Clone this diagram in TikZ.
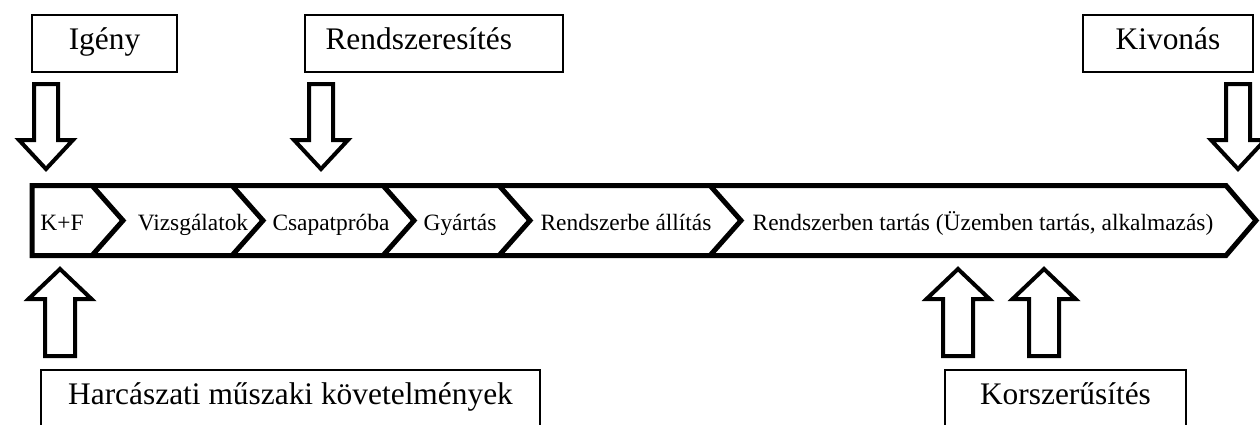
\documentclass[tikz,border=0pt]{standalone}
\usepackage{fontspec}
\setmainfont{Liberation Serif}
\begin{document}
\begin{tikzpicture}[x=0.5pt,y=-0.5pt,
  lbox/.style={draw, line width=1pt, font=\fontsize{15.7}{18}\selectfont, minimum height=28.5pt, inner sep=0pt, text height=11pt, text depth=5.5pt},
  band/.style={line width=2.5pt, line join=miter},
  blk/.style={line width=2pt, line join=miter},
  stage/.style={font=\fontsize{11.7}{14}\selectfont, inner sep=0pt, anchor=base},
  downarr/.pic={\draw[blk] (0,0) -- (-27,-29) -- (-12,-29) -- (-12,-85) -- (12,-85) -- (12,-29) -- (27,-29) -- cycle;},
  uparr/.pic={\draw[blk] (0,0) -- (-31.5,30) -- (-15,30) -- (-15,87) -- (15,87) -- (15,30) -- (31.5,30) -- cycle;}
]
\useasboundingbox (0,0) rectangle (1260,424);
\clip (0,0) rectangle (1260,424);

% label boxes
\node[lbox, minimum width=72.5pt] (igeny) at (104.5,43.5) {Igény};
\node[lbox, text width=108pt, inner xsep=10.5pt, align=left] (rendsz) at (433.5,43.5) {Rendszeresítés};
\node[lbox, minimum width=85pt] (kivon) at (1168,43.5) {Kivonás};
\node[lbox, minimum width=249.5pt] (harc) at (290.5,398.5) {Harcászati műszaki követelmények};
\node[lbox, minimum width=120.5pt] (korsz) at (1065.5,398.5) {Korszerűsítés};

% band outline
\draw[band] (32,185.5) -- (1226,185.5) -- (1256,220.5) -- (1226,255.5) -- (32,255.5) -- cycle;
% chevron separators
\foreach \xt in {92,232,383,499,710}{
  \draw[band] (\xt,185.5) -- (\xt+31,220.5) -- (\xt,255.5);
}

% stage texts
\node[stage] (kf) at (62,230) {K+F};
\node[stage] (vizsg) at (193,230) {Vizsgálatok};
\node[stage] (csap) at (331,230) {Csapatpróba};
\node[stage] (gyart) at (460,230) {Gyártás};
\node[stage] (rbe) at (626,230) {Rendszerbe állítás};
\node[stage] (rben) at (983,230) {Rendszerben tartás (Üzemben tartás, alkalmazás)};

% block arrows
\pic at (46,169) {downarr};
\pic at (321,169) {downarr};
\pic at (1238,169) {downarr};
\pic at (60,269) {uparr};
\pic at (958,269) {uparr};
\pic at (1044,269) {uparr};
\end{tikzpicture}
\end{document}
